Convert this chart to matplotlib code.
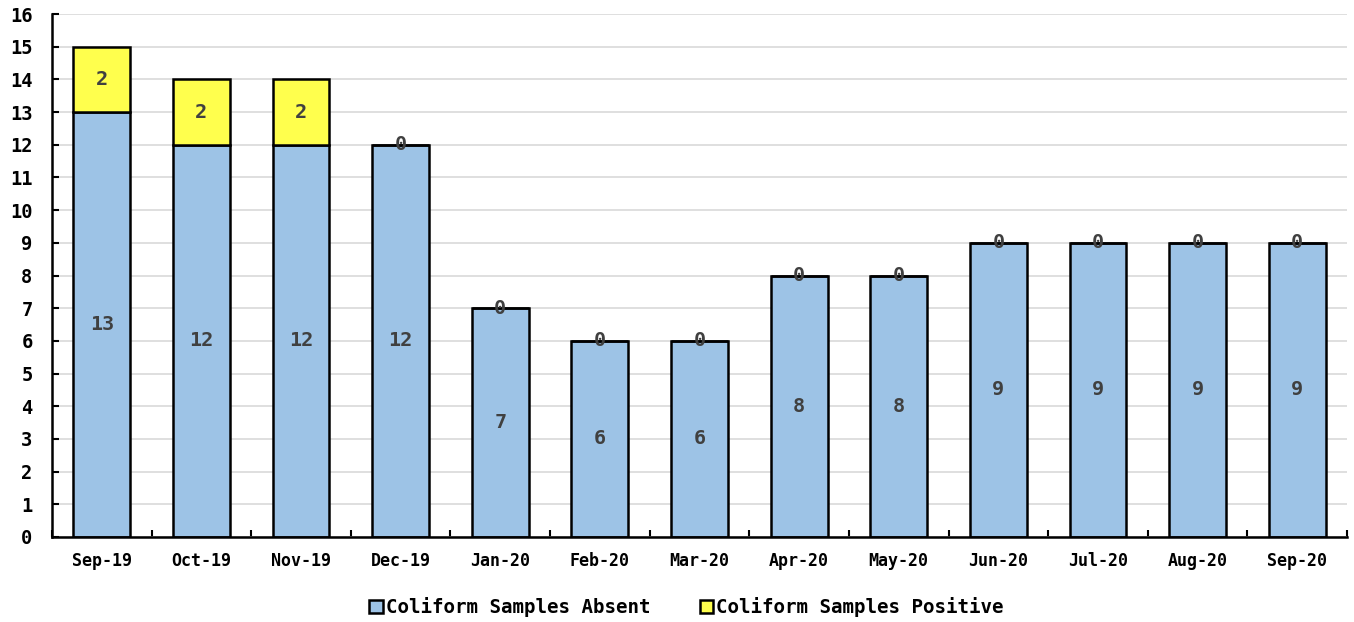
import matplotlib
matplotlib.use("Agg")
import matplotlib.pyplot as plt
from matplotlib.ticker import MultipleLocator, FixedLocator

categories = ["Sep-19", "Oct-19", "Nov-19", "Dec-19", "Jan-20", "Feb-20", "Mar-20",
              "Apr-20", "May-20", "Jun-20", "Jul-20", "Aug-20", "Sep-20"]
absent = [13, 12, 12, 12, 7, 6, 6, 8, 8, 9, 9, 9, 9]
positive = [2, 2, 2, 0, 0, 0, 0, 0, 0, 0, 0, 0, 0]

font = "DejaVu Sans Mono"
plt.rcParams['font.family'] = [font]

fig = plt.figure(figsize=(13.54, 6.22), dpi=100)
ax = fig.add_axes([52/1354, 1 - 537/622, (1347-52)/1354, (537-14)/622])

x = list(range(len(categories)))
w = 0.57
b1 = ax.bar(x, absent, width=w, color="#9DC3E6", edgecolor="black", linewidth=1.8,
            label="Coliform Samples Absent", zorder=3)
b2 = ax.bar(x, positive, width=w, bottom=absent, color="#FFFF4D", edgecolor="black",
            linewidth=1.8, label="Coliform Samples Positive", zorder=3)

for i in x:
    ax.text(i, absent[i] / 2, str(absent[i]), ha="center", va="center",
            fontsize=14.5, fontweight="bold", color="#404040", zorder=5)
    ax.text(i, absent[i] + positive[i] / 2, str(positive[i]), ha="center", va="center",
            fontsize=14.5, fontweight="bold", color="#404040", zorder=5)

ax.set_xlim(-0.5, len(categories) - 0.5)
ax.set_ylim(0, 16)
ax.yaxis.set_major_locator(MultipleLocator(1))
ax.set_xticks(x)
ax.set_xticklabels(categories)
ax.xaxis.set_minor_locator(FixedLocator([i + 0.5 for i in range(-1, len(categories))]))
ax.tick_params(axis="x", which="major", length=0, pad=11, labelsize=12)
ax.tick_params(axis="x", which="minor", length=5, width=1.5, direction="in")
ax.tick_params(axis="y", which="major", length=5, width=1.5, direction="in", labelsize=13.5, pad=14)
for lab in ax.get_xticklabels() + ax.get_yticklabels():
    lab.set_fontweight("bold")
    lab.set_color("black")

ax.grid(axis="y", color="#D9D9D9", linewidth=1.2, zorder=0)
for s in ["top", "right"]:
    ax.spines[s].set_visible(False)
for s in ["left", "bottom"]:
    ax.spines[s].set_linewidth(1.8)
    ax.spines[s].set_zorder(4)

leg = fig.legend(handles=[b1, b2], loc="center", bbox_to_anchor=(0.507, 1 - 607/622), ncol=2,
                 frameon=False, prop={"family": font, "weight": "bold", "size": 13.8},
                 handlelength=0.7, handleheight=0.7, handletextpad=0.15, columnspacing=2.6)

fig.savefig("out.png", dpi=100)
